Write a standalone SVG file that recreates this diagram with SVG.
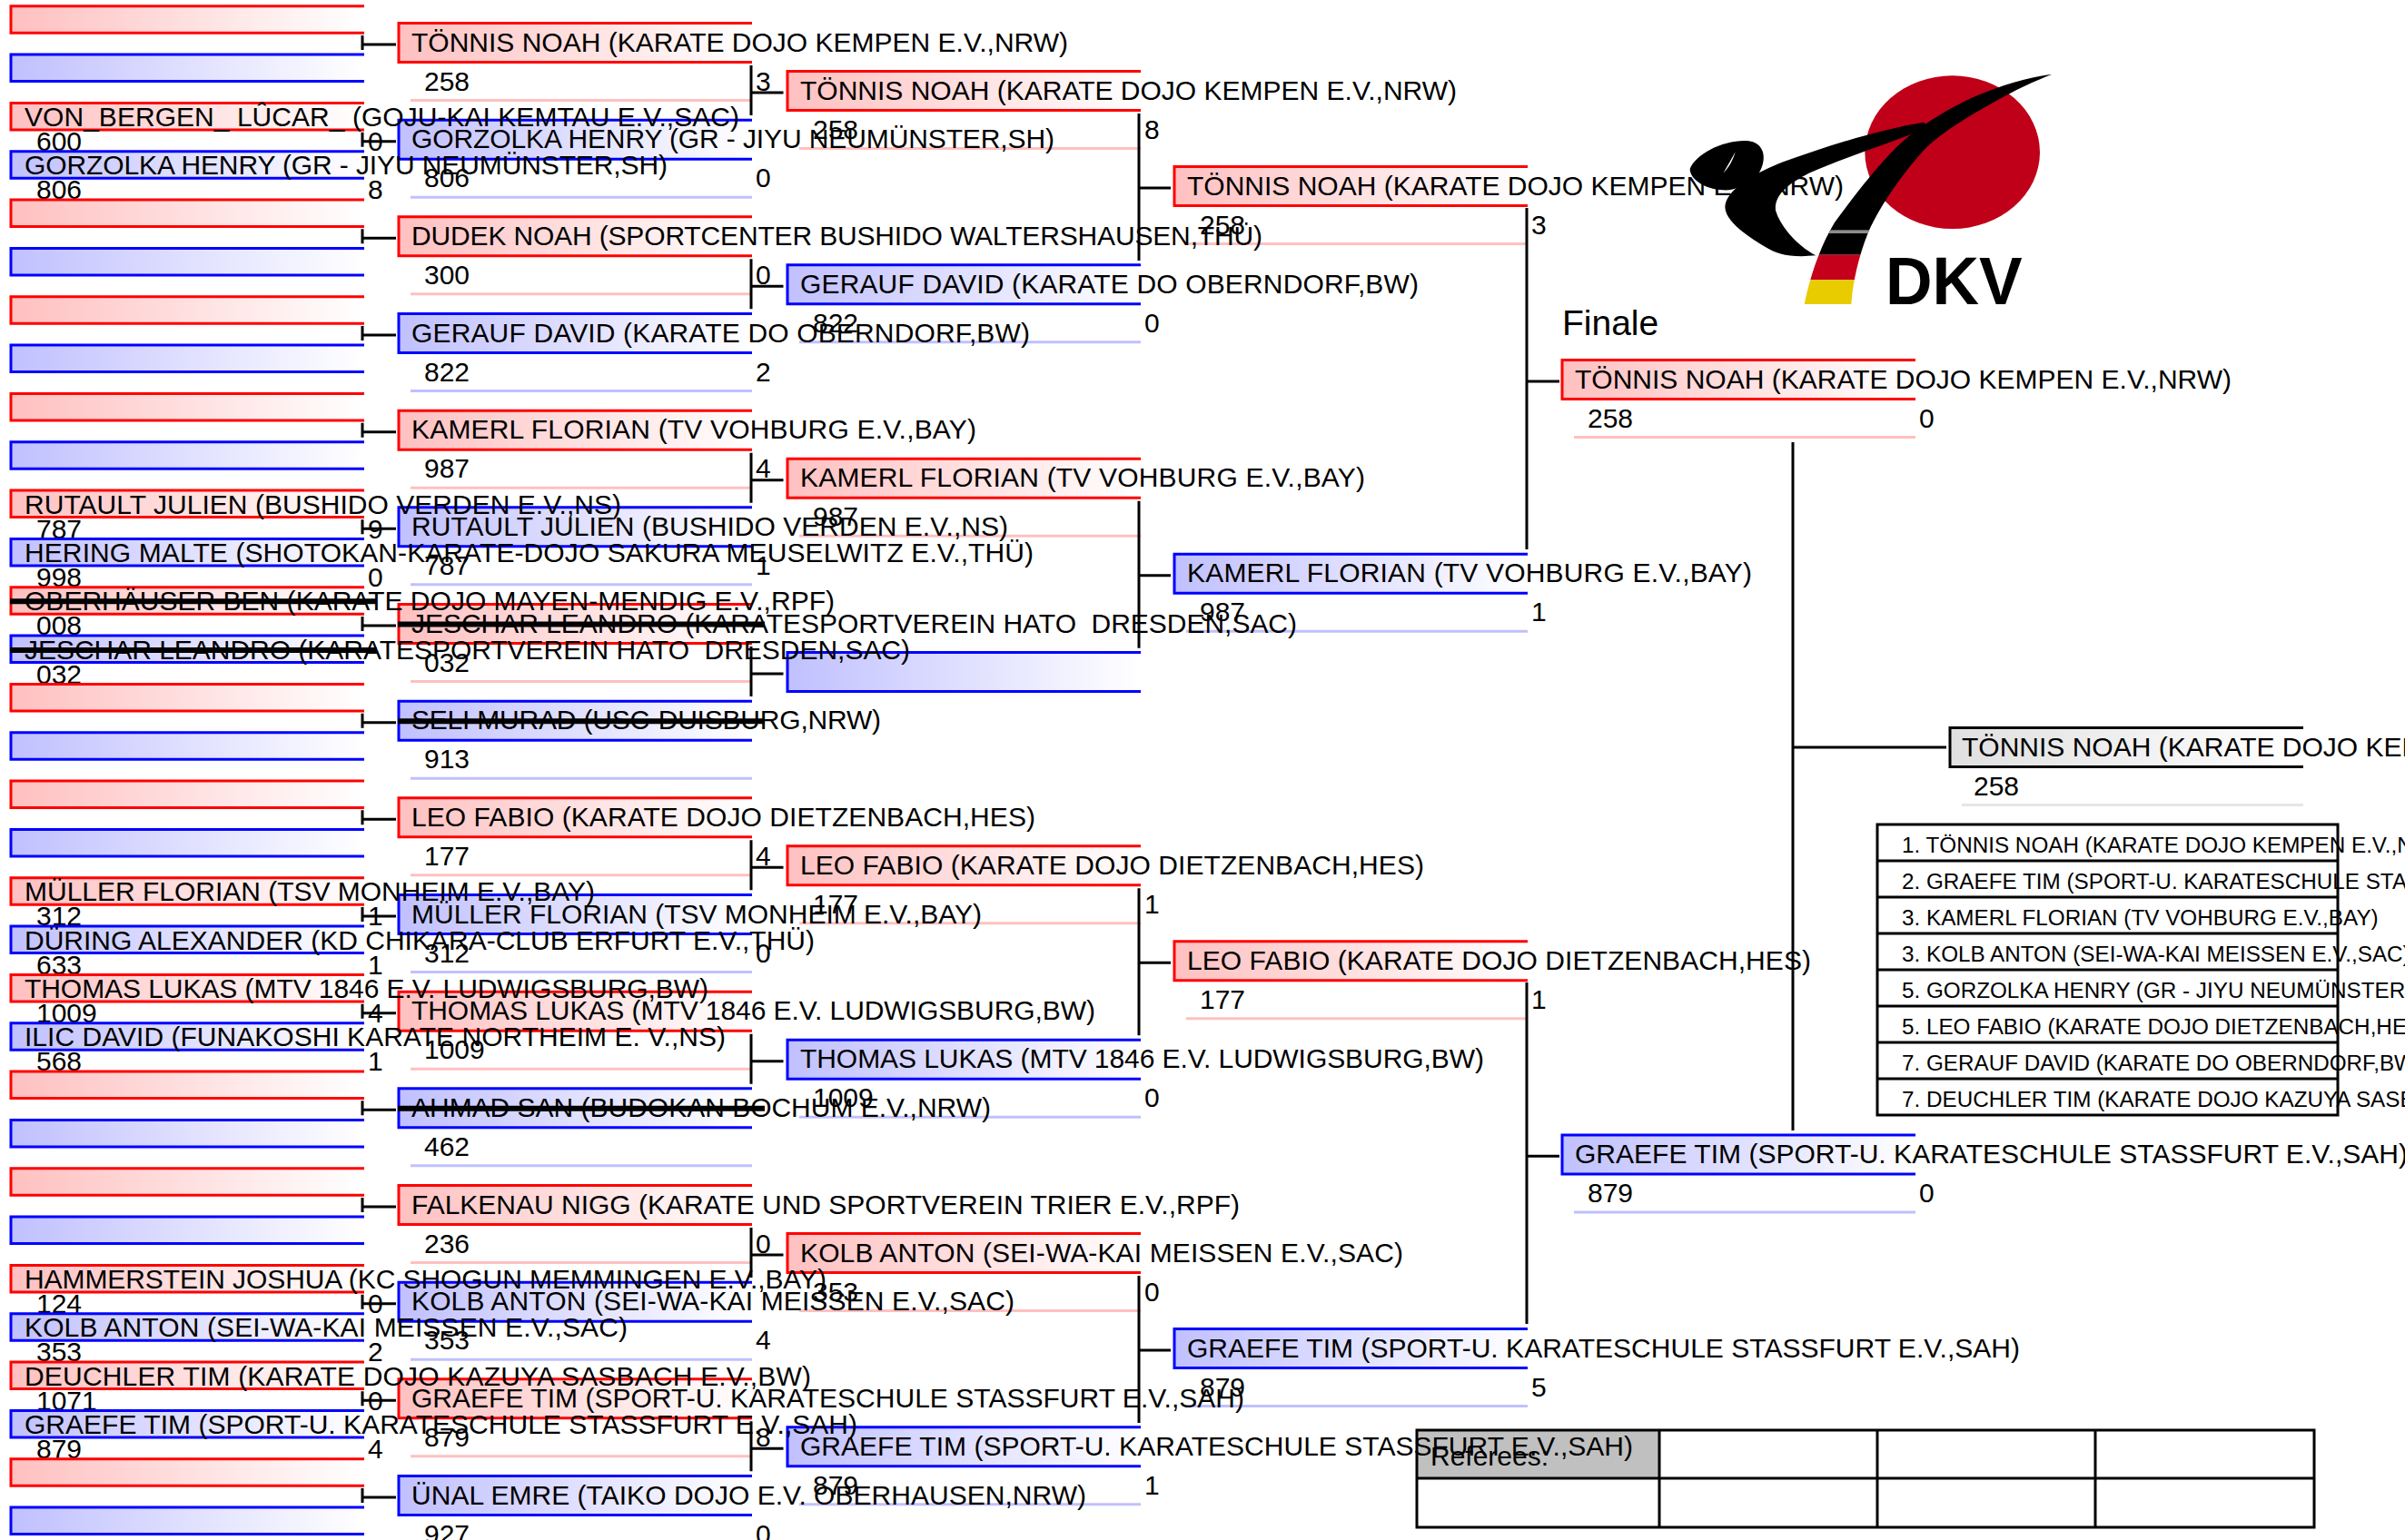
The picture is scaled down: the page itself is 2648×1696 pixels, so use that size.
<svg xmlns="http://www.w3.org/2000/svg" xmlns:xlink="http://www.w3.org/1999/xlink" width="2648" height="1696" viewBox="0 0 2648 1696">
<style>
text{font-family:"Liberation Sans",Arial,sans-serif;font-size:30px;fill:#000;white-space:pre}
.t{font-size:24.25px}
.h{font-size:39px}
.conn{fill:none;stroke:#000;stroke-width:3}
.grid{fill:none;stroke:#000;stroke-width:3}
.strike{stroke:#000;stroke-width:6;fill:none}
</style>
<defs>
<linearGradient id="gr"><stop offset="0" stop-color="#ffc0c0"/><stop offset="1" stop-color="#fff"/></linearGradient>
<linearGradient id="gb"><stop offset="0" stop-color="#c0c0ff"/><stop offset="1" stop-color="#fff"/></linearGradient>
<linearGradient id="gg"><stop offset="0" stop-color="#e0e0e0"/><stop offset="1" stop-color="#fff"/></linearGradient>
<path id="sr" d="M389 0H0V29.5H389" fill="url(#gr)" stroke="#f00" stroke-width="3"/>
<path id="sb" d="M389 0H0V29.5H389" fill="url(#gb)" stroke="#00f" stroke-width="3"/>
<g id="br"><path d="M389 0H0V43H389" fill="url(#gr)" stroke="#f00" stroke-width="3"/><path d="M13 85H389" stroke="#ffc0c0" stroke-width="3"/></g>
<g id="bb"><path d="M389 0H0V43H389" fill="url(#gb)" stroke="#00f" stroke-width="3"/><path d="M13 85H389" stroke="#c0c0ff" stroke-width="3"/></g>
<g id="bg"><path d="M389 0H0V43H389" fill="url(#gg)" stroke="#000" stroke-width="3"/><path d="M13 85H389" stroke="#e6e6e6" stroke-width="3"/></g>
<clipPath id="swclip"><path d="M1258 65C1180 75 1090 100 990 145C920 178 850 220 785 270C705 335 610 460 540 555C495 630 462 720 440 825L595 825C600 750 620 665 650 590C695 490 770 385 845 305C905 250 990 200 1070 155C1135 118 1200 88 1258 65Z"/></clipPath>
</defs>

<g id="referees">
<rect x="1560" y="1575" width="267" height="53" fill="#c0c0c0"/>
<path class="grid" d="M1560 1575H2548V1682H1560ZM1560 1628H2548M1827 1575V1682M2067 1575V1682M2307 1575V1682"/>
<text x="1575" y="1614">Referees:</text>
</g>

<g id="placements">
<path class="grid" d="M2067 908H2574V1228H2067ZM2067 948H2574M2067 988H2574M2067 1028H2574M2067 1068H2574M2067 1108H2574M2067 1148H2574M2067 1188H2574"/>
<text class="t" x="2094" y="939">1. TÖNNIS NOAH (KARATE DOJO KEMPEN E.V.,NRW)</text>
<text class="t" x="2094" y="979">2. GRAEFE TIM (SPORT-U. KARATESCHULE STASSFURT E.V.,SAH)</text>
<text class="t" x="2094" y="1019">3. KAMERL FLORIAN (TV VOHBURG E.V.,BAY)</text>
<text class="t" x="2094" y="1059">3. KOLB ANTON (SEI-WA-KAI MEISSEN E.V.,SAC)</text>
<text class="t" x="2094" y="1099">5. GORZOLKA HENRY (GR - JIYU NEUMÜNSTER,SH)</text>
<text class="t" x="2094" y="1139">5. LEO FABIO (KARATE DOJO DIETZENBACH,HES)</text>
<text class="t" x="2094" y="1179">7. GERAUF DAVID (KARATE DO OBERNDORF,BW)</text>
<text class="t" x="2094" y="1219">7. DEUCHLER TIM (KARATE DOJO KAZUYA SASBACH E.V.,BW)</text>
</g>

<g id="winner" transform="translate(2147,801.5)"><use xlink:href="#bg"/><text x="13" y="31" textLength="723">TÖNNIS NOAH (KARATE DOJO KEMPEN E.V.,NRW)</text><text x="26" y="74">258</text></g>

<text id="finale" class="h" x="1720" y="369">Finale</text>
<g id="c4n0" transform="translate(1720,396.5)"><use xlink:href="#br"/><text x="14" y="31" textLength="723">TÖNNIS NOAH (KARATE DOJO KEMPEN E.V.,NRW)</text><text x="28" y="74">258</text><text x="393" y="74">0</text></g>
<g id="c4n1" transform="translate(1720,1250)"><use xlink:href="#bb"/><text x="14" y="31" textLength="917">GRAEFE TIM (SPORT-U. KARATESCHULE STASSFURT E.V.,SAH)</text><text x="28" y="74">879</text><text x="393" y="74">0</text></g>

<g id="c3n0" transform="translate(1293,183.5)"><use xlink:href="#br"/><text x="14" y="31" textLength="723">TÖNNIS NOAH (KARATE DOJO KEMPEN E.V.,NRW)</text><text x="28" y="74">258</text><text x="393" y="74">3</text></g>
<g id="c3n1" transform="translate(1293,610.2)"><use xlink:href="#bb"/><text x="14" y="31" textLength="622">KAMERL FLORIAN (TV VOHBURG E.V.,BAY)</text><text x="28" y="74">987</text><text x="393" y="74">1</text></g>
<g id="c3n2" transform="translate(1293,1036.8)"><use xlink:href="#br"/><text x="14" y="31" textLength="687">LEO FABIO (KARATE DOJO DIETZENBACH,HES)</text><text x="28" y="74">177</text><text x="393" y="74">1</text></g>
<g id="c3n3" transform="translate(1293,1463.5)"><use xlink:href="#bb"/><text x="14" y="31" textLength="917">GRAEFE TIM (SPORT-U. KARATESCHULE STASSFURT E.V.,SAH)</text><text x="28" y="74">879</text><text x="393" y="74">5</text></g>

<g id="c2n0" transform="translate(867,78.5)"><use xlink:href="#br"/><text x="14" y="31" textLength="723">TÖNNIS NOAH (KARATE DOJO KEMPEN E.V.,NRW)</text><text x="28" y="74">258</text><text x="393" y="74">8</text></g>
<g id="c2n1" transform="translate(867,291.8)"><use xlink:href="#bb"/><text x="14" y="31" textLength="681">GERAUF DAVID (KARATE DO OBERNDORF,BW)</text><text x="28" y="74">822</text><text x="393" y="74">0</text></g>
<g id="c2n2" transform="translate(867,505.2)"><use xlink:href="#br"/><text x="14" y="31" textLength="622">KAMERL FLORIAN (TV VOHBURG E.V.,BAY)</text><text x="28" y="74">987</text></g>
<g id="c2n3" transform="translate(867,718.5)"><path d="M389 0H0V43H389" fill="url(#gb)" stroke="#00f" stroke-width="3"/></g>
<g id="c2n4" transform="translate(867,931.8)"><use xlink:href="#br"/><text x="14" y="31" textLength="687">LEO FABIO (KARATE DOJO DIETZENBACH,HES)</text><text x="28" y="74">177</text><text x="393" y="74">1</text></g>
<g id="c2n5" transform="translate(867,1145.2)"><use xlink:href="#bb"/><text x="14" y="31" textLength="753">THOMAS LUKAS (MTV 1846 E.V. LUDWIGSBURG,BW)</text><text x="28" y="74">1009</text><text x="393" y="74">0</text></g>
<g id="c2n6" transform="translate(867,1358.5)"><use xlink:href="#br"/><text x="14" y="31" textLength="664">KOLB ANTON (SEI-WA-KAI MEISSEN E.V.,SAC)</text><text x="28" y="74">353</text><text x="393" y="74">0</text></g>
<g id="c2n7" transform="translate(867,1571.8)"><use xlink:href="#bb"/><text x="14" y="31" textLength="917">GRAEFE TIM (SPORT-U. KARATESCHULE STASSFURT E.V.,SAH)</text><text x="28" y="74">879</text><text x="393" y="74">1</text></g>

<g id="c1n0" transform="translate(439,25.5)"><use xlink:href="#br"/><text x="14" y="31" textLength="723">TÖNNIS NOAH (KARATE DOJO KEMPEN E.V.,NRW)</text><text x="28" y="74">258</text><text x="393" y="74">3</text></g>
<g id="c1n1" transform="translate(439,132.2)"><use xlink:href="#bb"/><text x="14" y="31" textLength="708">GORZOLKA HENRY (GR - JIYU NEUMÜNSTER,SH)</text><text x="28" y="74">806</text><text x="393" y="74">0</text></g>
<g id="c1n2" transform="translate(439,238.8)"><use xlink:href="#br"/><text x="14" y="31" textLength="937">DUDEK NOAH (SPORTCENTER BUSHIDO WALTERSHAUSEN,THÜ)</text><text x="28" y="74">300</text><text x="393" y="74">0</text></g>
<g id="c1n3" transform="translate(439,345.5)"><use xlink:href="#bb"/><text x="14" y="31" textLength="681">GERAUF DAVID (KARATE DO OBERNDORF,BW)</text><text x="28" y="74">822</text><text x="393" y="74">2</text></g>
<g id="c1n4" transform="translate(439,452.2)"><use xlink:href="#br"/><text x="14" y="31" textLength="622">KAMERL FLORIAN (TV VOHBURG E.V.,BAY)</text><text x="28" y="74">987</text><text x="393" y="74">4</text></g>
<g id="c1n5" transform="translate(439,558.8)"><use xlink:href="#bb"/><text x="14" y="31" textLength="657">RUTAULT JULIEN (BUSHIDO VERDEN E.V.,NS)</text><text x="28" y="74">787</text><text x="393" y="74">1</text></g>
<g id="c1n6" transform="translate(439,665.5)"><use xlink:href="#br"/><text x="14" y="31" textLength="975">JESCHAR LEANDRO (KARATESPORTVEREIN HATO  DRESDEN,SAC)</text><text x="28" y="74">032</text><path class="strike" d="M-1 22H403"/></g>
<g id="c1n7" transform="translate(439,772.2)"><use xlink:href="#bb"/><text x="14" y="31" textLength="517">SELI MURAD (USC-DUISBURG,NRW)</text><text x="28" y="74">913</text><path class="strike" d="M-1 22H403"/></g>
<g id="c1n8" transform="translate(439,878.8)"><use xlink:href="#br"/><text x="14" y="31" textLength="687">LEO FABIO (KARATE DOJO DIETZENBACH,HES)</text><text x="28" y="74">177</text><text x="393" y="74">4</text></g>
<g id="c1n9" transform="translate(439,985.5)"><use xlink:href="#bb"/><text x="14" y="31" textLength="628">MÜLLER FLORIAN (TSV MONHEIM E.V.,BAY)</text><text x="28" y="74">312</text><text x="393" y="74">0</text></g>
<g id="c1n10" transform="translate(439,1092.2)"><use xlink:href="#br"/><text x="14" y="31" textLength="753">THOMAS LUKAS (MTV 1846 E.V. LUDWIGSBURG,BW)</text><text x="28" y="74">1009</text></g>
<g id="c1n11" transform="translate(439,1198.8)"><use xlink:href="#bb"/><text x="14" y="31" textLength="638">AHMAD SAN (BUDOKAN BOCHUM E.V.,NRW)</text><text x="28" y="74">462</text><path class="strike" d="M-1 22H403"/></g>
<g id="c1n12" transform="translate(439,1305.5)"><use xlink:href="#br"/><text x="14" y="31" textLength="912">FALKENAU NIGG (KARATE UND SPORTVEREIN TRIER E.V.,RPF)</text><text x="28" y="74">236</text><text x="393" y="74">0</text></g>
<g id="c1n13" transform="translate(439,1412.2)"><use xlink:href="#bb"/><text x="14" y="31" textLength="664">KOLB ANTON (SEI-WA-KAI MEISSEN E.V.,SAC)</text><text x="28" y="74">353</text><text x="393" y="74">4</text></g>
<g id="c1n14" transform="translate(439,1518.8)"><use xlink:href="#br"/><text x="14" y="31" textLength="917">GRAEFE TIM (SPORT-U. KARATESCHULE STASSFURT E.V.,SAH)</text><text x="28" y="74">879</text><text x="393" y="74">8</text></g>
<g id="c1n15" transform="translate(439,1625.5)"><use xlink:href="#bb"/><text x="14" y="31" textLength="743">ÜNAL EMRE (TAIKO DOJO E.V. OBERHAUSEN,NRW)</text><text x="28" y="74">927</text><text x="393" y="74">0</text></g>

<g id="c0n0" transform="translate(12,6.7)"><use xlink:href="#sr"/></g>
<g id="c0n1" transform="translate(12,60)"><use xlink:href="#sb"/></g>
<g id="c0n2" transform="translate(12,113.4)"><use xlink:href="#sr"/><text x="15" y="25.5" textLength="787">VON_BERGEN_ LÛCAR_ (GOJU-KAI KEMTAU E.V.,SAC)</text><text x="28" y="52.6">600</text><text x="393" y="52.6">0</text></g>
<g id="c0n3" transform="translate(12,166.7)"><use xlink:href="#sb"/><text x="15" y="25.5" textLength="708">GORZOLKA HENRY (GR - JIYU NEUMÜNSTER,SH)</text><text x="28" y="52.6">806</text><text x="393" y="52.6">8</text></g>
<g id="c0n4" transform="translate(12,220)"><use xlink:href="#sr"/></g>
<g id="c0n5" transform="translate(12,273.4)"><use xlink:href="#sb"/></g>
<g id="c0n6" transform="translate(12,326.7)"><use xlink:href="#sr"/></g>
<g id="c0n7" transform="translate(12,380)"><use xlink:href="#sb"/></g>
<g id="c0n8" transform="translate(12,433.4)"><use xlink:href="#sr"/></g>
<g id="c0n9" transform="translate(12,486.7)"><use xlink:href="#sb"/></g>
<g id="c0n10" transform="translate(12,540)"><use xlink:href="#sr"/><text x="15" y="25.5" textLength="657">RUTAULT JULIEN (BUSHIDO VERDEN E.V.,NS)</text><text x="28" y="52.6">787</text><text x="393" y="52.6">9</text></g>
<g id="c0n11" transform="translate(12,593.4)"><use xlink:href="#sb"/><text x="15" y="25.5" textLength="1111">HERING MALTE (SHOTOKAN-KARATE-DOJO SAKURA MEUSELWITZ E.V.,THÜ)</text><text x="28" y="52.6">998</text><text x="393" y="52.6">0</text></g>
<g id="c0n12" transform="translate(12,646.7)"><use xlink:href="#sr"/><text x="15" y="25.5" textLength="892">OBERHÄUSER BEN (KARATE DOJO MAYEN-MENDIG E.V.,RPF)</text><text x="28" y="52.6">008</text><path class="strike" d="M-1 15.5H403"/></g>
<g id="c0n13" transform="translate(12,700)"><use xlink:href="#sb"/><text x="15" y="25.5" textLength="975">JESCHAR LEANDRO (KARATESPORTVEREIN HATO  DRESDEN,SAC)</text><text x="28" y="52.6">032</text><path class="strike" d="M-1 16H403"/></g>
<g id="c0n14" transform="translate(12,753.4)"><use xlink:href="#sr"/></g>
<g id="c0n15" transform="translate(12,806.7)"><use xlink:href="#sb"/></g>
<g id="c0n16" transform="translate(12,860)"><use xlink:href="#sr"/></g>
<g id="c0n17" transform="translate(12,913.4)"><use xlink:href="#sb"/></g>
<g id="c0n18" transform="translate(12,966.7)"><use xlink:href="#sr"/><text x="15" y="25.5" textLength="628">MÜLLER FLORIAN (TSV MONHEIM E.V.,BAY)</text><text x="28" y="52.6">312</text><text x="393" y="52.6">1</text></g>
<g id="c0n19" transform="translate(12,1020)"><use xlink:href="#sb"/><text x="15" y="25.5" textLength="870">DÜRING ALEXANDER (KD CHIKARA-CLUB ERFURT E.V.,THÜ)</text><text x="28" y="52.6">633</text><text x="393" y="52.6">1</text></g>
<g id="c0n20" transform="translate(12,1073.4)"><use xlink:href="#sr"/><text x="15" y="25.5" textLength="753">THOMAS LUKAS (MTV 1846 E.V. LUDWIGSBURG,BW)</text><text x="28" y="52.6">1009</text><text x="393" y="52.6">4</text></g>
<g id="c0n21" transform="translate(12,1126.7)"><use xlink:href="#sb"/><text x="15" y="25.5" textLength="772">ILIC DAVID (FUNAKOSHI KARATE NORTHEIM E. V.,NS)</text><text x="28" y="52.6">568</text><text x="393" y="52.6">1</text></g>
<g id="c0n22" transform="translate(12,1180)"><use xlink:href="#sr"/></g>
<g id="c0n23" transform="translate(12,1233.4)"><use xlink:href="#sb"/></g>
<g id="c0n24" transform="translate(12,1286.7)"><use xlink:href="#sr"/></g>
<g id="c0n25" transform="translate(12,1340)"><use xlink:href="#sb"/></g>
<g id="c0n26" transform="translate(12,1393.4)"><use xlink:href="#sr"/><text x="15" y="25.5" textLength="883">HAMMERSTEIN JOSHUA (KC SHOGUN MEMMINGEN E.V.,BAY)</text><text x="28" y="52.6">124</text><text x="393" y="52.6">0</text></g>
<g id="c0n27" transform="translate(12,1446.7)"><use xlink:href="#sb"/><text x="15" y="25.5" textLength="664">KOLB ANTON (SEI-WA-KAI MEISSEN E.V.,SAC)</text><text x="28" y="52.6">353</text><text x="393" y="52.6">2</text></g>
<g id="c0n28" transform="translate(12,1500)"><use xlink:href="#sr"/><text x="15" y="25.5" textLength="866">DEUCHLER TIM (KARATE DOJO KAZUYA SASBACH E.V.,BW)</text><text x="28" y="52.6">1071</text><text x="393" y="52.6">0</text></g>
<g id="c0n29" transform="translate(12,1553.4)"><use xlink:href="#sb"/><text x="15" y="25.5" textLength="917">GRAEFE TIM (SPORT-U. KARATESCHULE STASSFURT E.V.,SAH)</text><text x="28" y="52.6">879</text><text x="393" y="52.6">4</text></g>
<g id="c0n30" transform="translate(12,1606.7)"><use xlink:href="#sr"/></g>
<g id="c0n31" transform="translate(12,1660)"><use xlink:href="#sb"/></g>

<g id="connectors" class="conn">
<path d="M399 39V55M399 49H436M399 145.7V161.7M399 155.7H436M399 252.3V268.3M399 262.3H436M399 359V375M399 369H436M399 465.7V481.7M399 475.7H436M399 572.3V588.3M399 582.3H436M399 679V695M399 689H436M399 785.7V801.7M399 795.7H436M399 892.3V908.3M399 902.3H436M399 999V1015M399 1009H436M399 1105.7V1121.7M399 1115.7H436M399 1212.3V1228.3M399 1222.3H436M399 1319V1335M399 1329H436M399 1425.7V1441.7M399 1435.7H436M399 1532.3V1548.3M399 1542.3H436M399 1639V1655M399 1649H436"/>
<path d="M827 72V127M827 102H862.5M827 285.3V340.3M827 315.3H862.5M827 498.7V553.7M827 528.7H862.5M827 712V767M827 742H862.5M827 925.3V980.3M827 955.3H862.5M827 1138.7V1193.7M827 1168.7H862.5M827 1352V1407M827 1382H862.5M827 1565.3V1620.3M827 1595.3H862.5"/>
<path d="M1254 125V287M1254 207H1289M1254 551.7V713.7M1254 633.7H1289M1254 978.3V1140.3M1254 1060.3H1289M1254 1405V1567M1254 1487H1289"/>
<path d="M1681 229V605M1681 420H1717M1681 1082V1458M1681 1273.3H1717"/>
<path d="M1974 487V1245M1974 823H2143"/>
</g>

<g id="logo" transform="translate(1840,60) scale(0.33333)">
<ellipse cx="929" cy="323" rx="289" ry="253" fill="#bf0018"/>
<g clip-path="url(#swclip)">
<rect x="430" y="60" width="840" height="602" fill="#000"/>
<rect x="430" y="662" width="840" height="83" fill="#c4001a"/>
<rect x="430" y="745" width="840" height="85" fill="#e8cc00"/>
<rect x="520" y="580" width="140" height="11" fill="#8c8c8c"/>
</g>
<path d="M835 224C700 245 520 300 370 355C280 390 180 445 178 505C180 555 260 605 310 635C350 660 395 672 478 664C430 640 365 580 345 515C340 465 385 428 455 392C585 335 720 295 850 240Z"/>
<path fill-rule="evenodd" d="M62 378C80 330 170 282 250 285C310 290 318 345 290 392C260 428 205 452 170 448C110 445 62 412 62 378ZM212 322C200 345 185 370 172 392C188 378 204 350 212 322Z"/>
<text x="708" y="825" style="font-size:222px;font-weight:bold" textLength="452" lengthAdjust="spacingAndGlyphs">DKV</text>
</g>
</svg>
